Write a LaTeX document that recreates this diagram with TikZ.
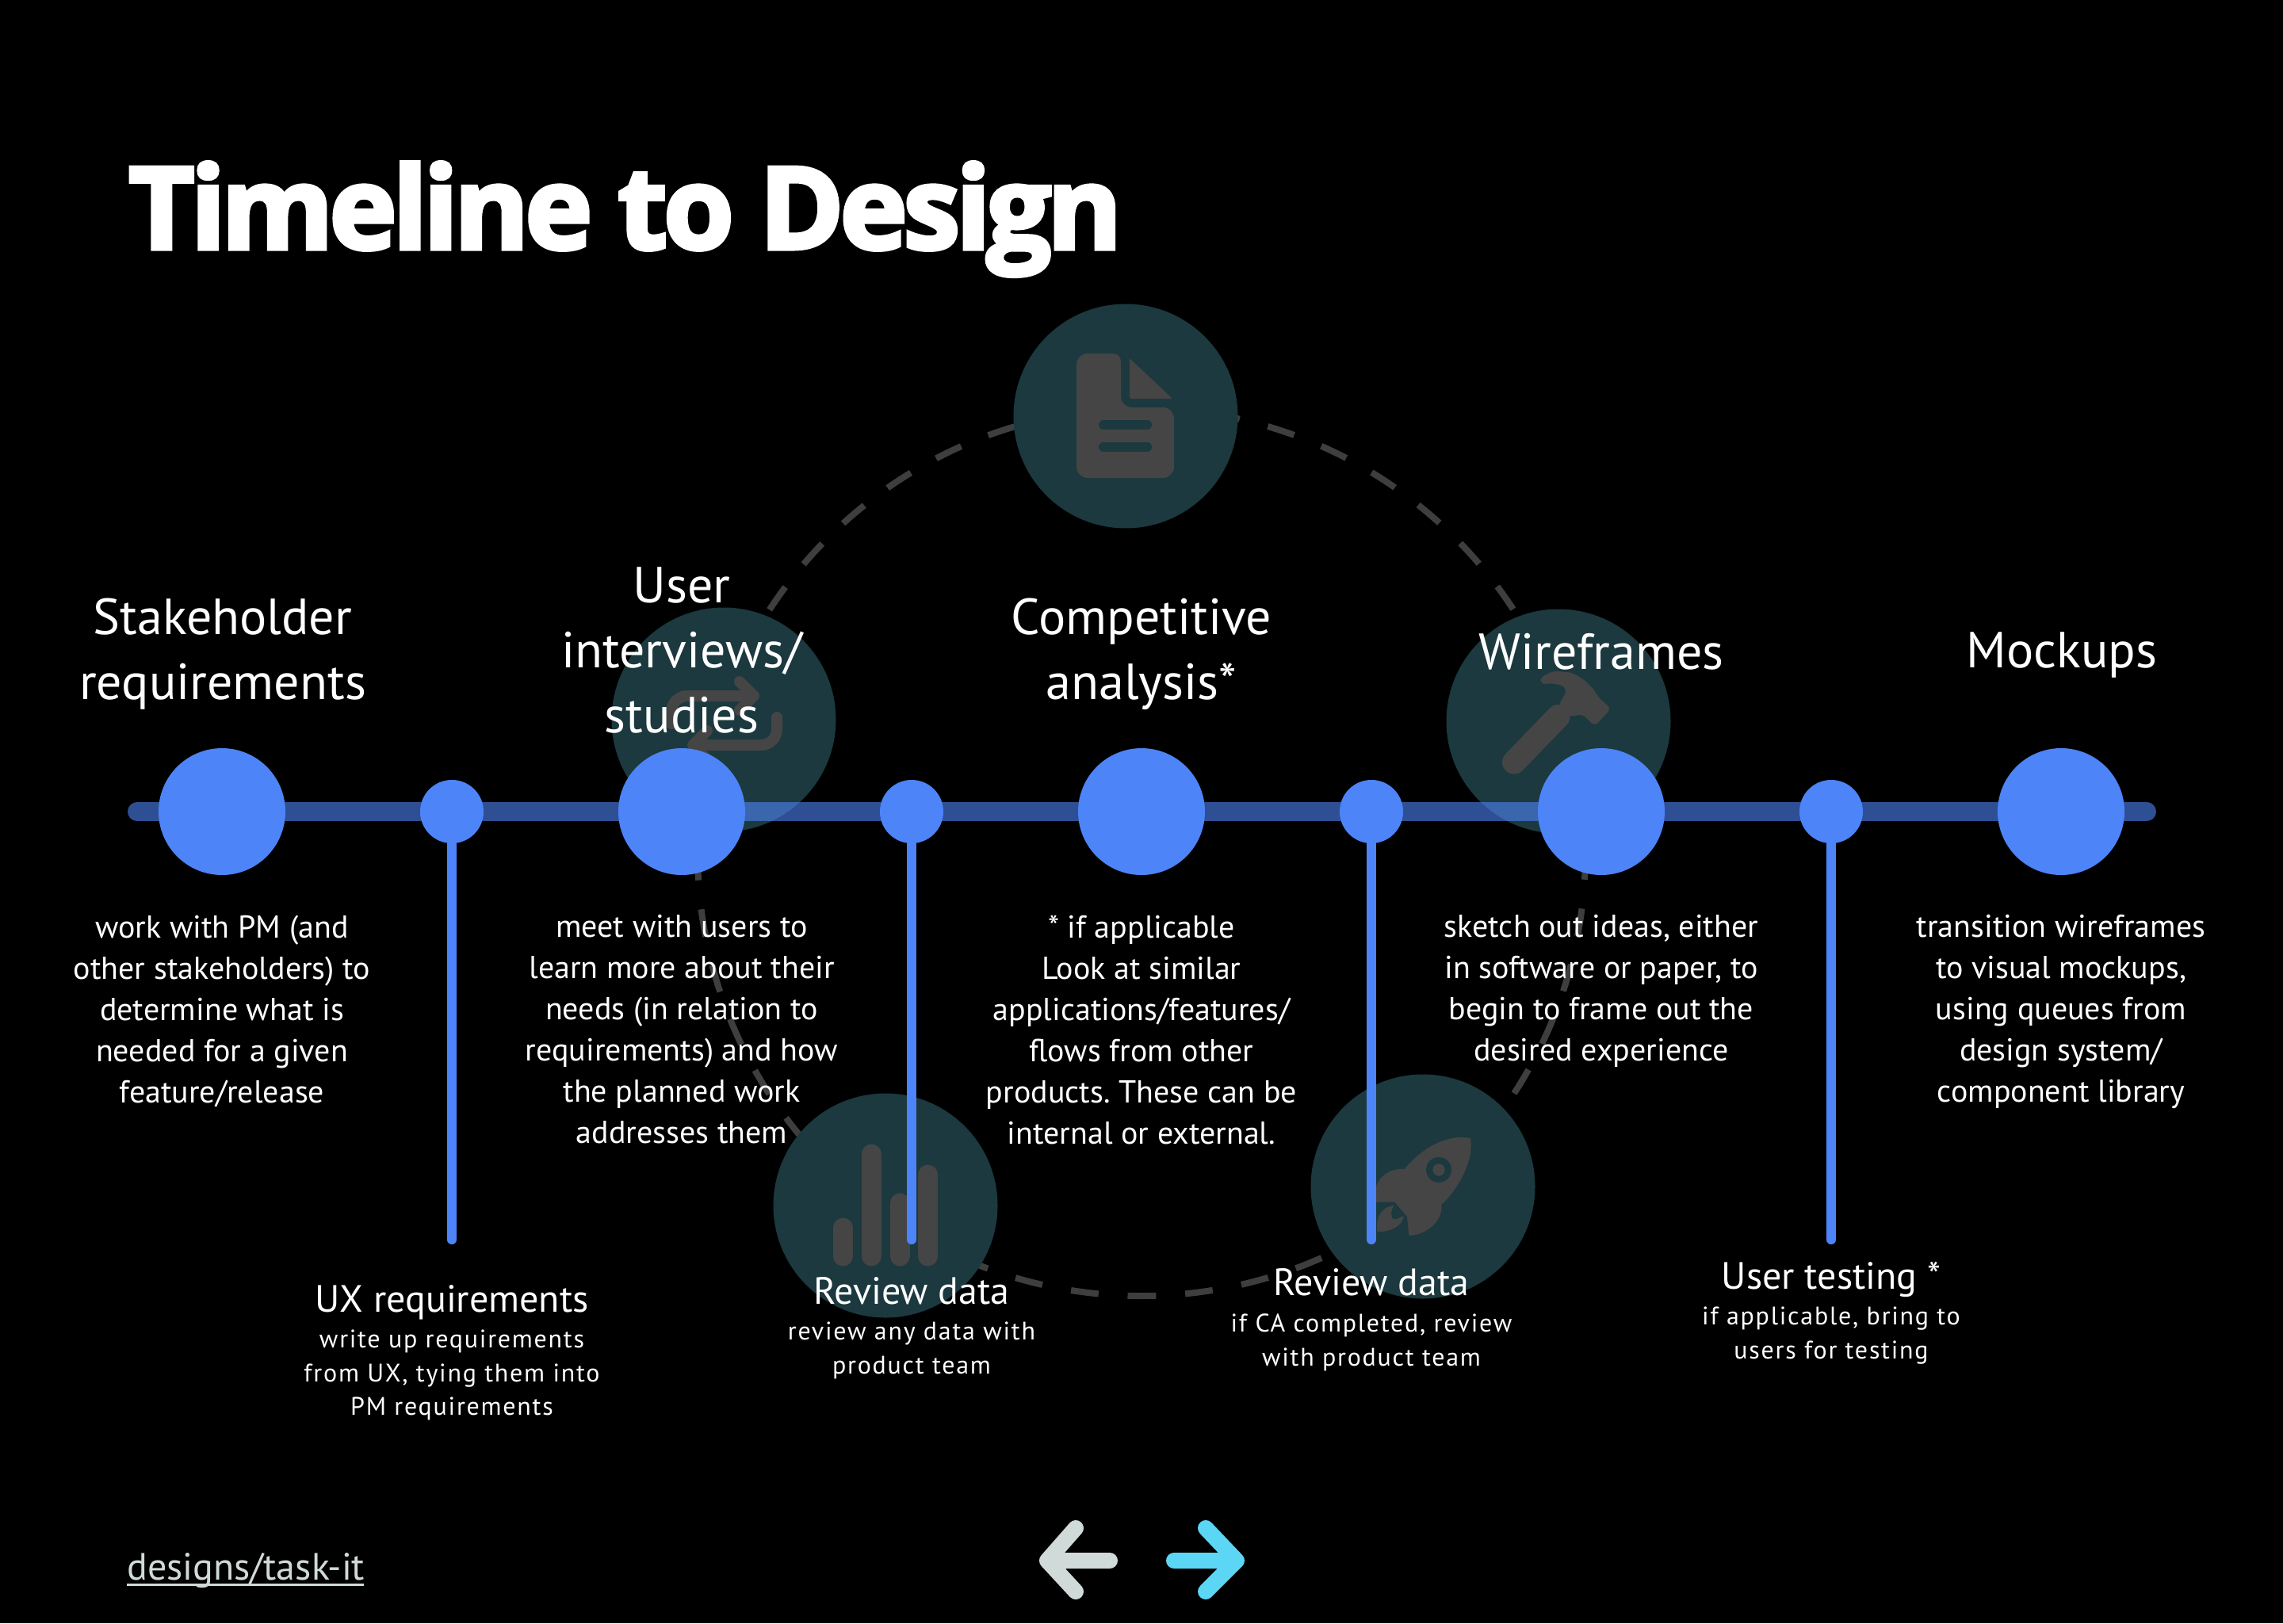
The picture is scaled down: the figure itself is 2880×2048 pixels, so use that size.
\documentclass[tikz,border=0pt]{standalone}
\usepackage{fontspec}
\setmainfont{PT Sans}
\newfontfamily\titlefont[LetterSpace=-3.6,BoldFeatures={FakeBold=3.5}]{Open Sans}
\newfontfamily\smallfont[LetterSpace=5.5]{PT Sans}
\definecolor{bluedot}{HTML}{4D84F8}
\definecolor{tealc}{HTML}{1B393E}
\definecolor{icon}{HTML}{454545}
\definecolor{linkc}{HTML}{D0DAD8}
\definecolor{cyanc}{HTML}{5BD7F5}
\tikzset{
  bigdot/.style={circle,fill=bluedot,minimum size=160pt,inner sep=0pt},
  smalldot/.style={circle,fill=bluedot,minimum size=80pt,inner sep=0pt},
  tealdisc/.style={circle,fill=tealc,minimum size=283pt,inner sep=0pt},
  heading/.style={text=white,align=center,font=\frenchspacing\fontsize{64}{82}\selectfont},
  bodytext/.style={text=white,align=center,font=\frenchspacing\fontsize{40}{52}\selectfont},
  subhead/.style={text=white,align=center,font=\frenchspacing\fontsize{48}{56}\selectfont},
  subtext/.style={text=white,align=center,font=\frenchspacing\smallfont\fontsize{32}{42.5}\selectfont},
  droplink/.style={line width=12pt,draw=bluedot,line cap=round},
  iconline/.style={draw=icon,line cap=round,line join=round},
}
\begin{document}
\begin{tikzpicture}[x=1pt,y=-1pt]
\useasboundingbox (0,0) rectangle (2880,2048);
\fill[black] (0,0) rectangle (2880,2048);
% dashed ring
\draw[draw=icon!90!black,line width=8pt,dash pattern=on 35pt off 36.8pt,dash phase=17.5pt]
  (1440,1635) arc [start angle=90,end angle=450,radius=560];
% teal discs
\node[tealdisc] (tdoc) at (1420,525) {};
\node[tealdisc] (tswap) at (913,908) {};
\node[tealdisc] (tham) at (1966,910) {};
\node[tealdisc] (tbar) at (1117,1521) {};
\node[tealdisc] (trock) at (1795,1497) {};
% document icon
\fill[icon,rounded corners=10pt] (1358,446) -- (1414,446) -- (1414,505) [rounded corners=14pt] -- (1414,514) [rounded corners=14pt] -- (1481,514) -- (1481,603) -- (1358,603) -- cycle;
\fill[icon,rounded corners=2pt] (1425,452) -- (1479,503) -- (1425,503) -- cycle;
\draw[draw=tealc,line width=12pt,line cap=round] (1392,536) -- (1447,536) (1392,564) -- (1447,564);
% swap icon
\draw[iconline,line width=14pt,rounded corners=20pt] (847,913) -- (847,878) -- (948,878);
\draw[iconline,line width=14pt] (933,860) -- (951,878) -- (933,896);
\draw[iconline,line width=14pt,rounded corners=20pt] (980,905) -- (980,940) -- (878,940);
\draw[iconline,line width=14pt] (892,922) -- (874,940) -- (892,958);
% hammer icon
\begin{scope}[shift={(1800,700)},scale=1/3]
\draw[iconline,line width=30pt] (330,785) -- (497,612);
\fill[icon,rounded corners=6pt] (432,492) .. controls (430,460) and (470,440) .. (510,442) .. controls (570,447) and (620,490) .. (650,540) -- (697,582) -- (635,649) -- (588,602) -- (545,614) -- (498,570) -- (530,515) .. controls (510,490) and (470,485) .. (432,492) -- cycle;
\end{scope}
% bar icon
\draw[iconline,line width=25pt] (1063.5,1549) -- (1063.5,1585) (1099,1456) -- (1099,1585) (1135,1518) -- (1135,1585) (1170.5,1482) -- (1170.5,1585);
% rocket icon
\begin{scope}[shift={(1690,1410)},scale=1/3]
\fill[icon] (495,78) .. controls (510,160) and (450,270) .. (385,330) .. controls (392,390) and (330,445) .. (262,447) -- (255,375) -- (208,320) -- (135,320) -- (135,270) .. controls (150,215) and (200,190) .. (245,195) .. controls (310,115) and (410,60) .. (495,78) -- cycle;
\fill[icon] (142,432) .. controls (135,390) and (150,340) .. (205,332) .. controls (190,360) and (195,385) .. (207,385) .. controls (220,385) and (235,375) .. (242,372) .. controls (240,410) and (190,435) .. (142,432) -- cycle;
\fill[tealc] (375,198) circle [radius=48];
\fill[icon] (375,198) circle [radius=23];
\end{scope}
% main line
\coordinate (ls) at (173,1024);
\coordinate (le) at (2708,1024);
\draw[draw=bluedot,opacity=0.6,line width=24pt,line cap=round] (ls) -- (le);
% dots
\node[bigdot] (n1) at (280,1024) {};
\node[bigdot] (n2) at (860,1024) {};
\node[bigdot] (n3) at (1440,1024) {};
\node[bigdot] (n4) at (2020,1024) {};
\node[bigdot] (n5) at (2600,1024) {};
\node[smalldot] (s1) at (570,1024) {};
\node[smalldot] (s2) at (1150,1024) {};
\node[smalldot] (s3) at (1730,1024) {};
\node[smalldot] (s4) at (2310,1024) {};
\coordinate (e1) at (570,1564);
\coordinate (e2) at (1150,1564);
\coordinate (e3) at (1730,1564);
\coordinate (e4) at (2310,1564);
\draw[droplink] (s1.center) -- (e1);
\draw[droplink] (s2.center) -- (e2);
\draw[droplink] (s3.center) -- (e3);
\draw[droplink] (s4.center) -- (e4);
% title
\node[anchor=base west,inner sep=0pt,text=white,font=\titlefont\bfseries\fontsize{144}{150}\selectfont] (title) at (162,314) {Timeline to Design};
% headings
\node[heading] (h1) at (281,825) {Stakeholder\\requirements};
\node[heading] (h2) at (860,820) {User\\interviews/\\studies};
\node[heading] (h3) at (1440,825) {Competitive\\analysis*};
\node[heading] (h4) at (2020,822) {Wireframes};
\node[heading] (h5) at (2601,826) {Mockups};
% bodies
\node[bodytext] (b1) at (280,1276) {work with PM (and\\other stakeholders) to\\determine what is\\needed for a given\\feature/release};
\node[bodytext] (b2) at (860,1299) {meet with users to\\learn more about their\\needs (in relation to\\requirements) and how\\the planned work\\addresses them};
\node[bodytext] (b3) at (1440,1299) {* if applicable\\Look at similar\\applications/features/\\flows from other\\products. These can be\\internal or external.};
\node[bodytext] (b4) at (2020,1250) {sketch out ideas, either\\in software or paper, to\\begin to frame out the\\desired experience};
\node[bodytext] (b5) at (2600,1276) {transition wireframes\\to visual mockups,\\using queues from\\design system/\\component library};
% sub items
\node[subhead] (sh1) at (570,1643) {UX requirements};
\node[subtext] (st1) at (570,1735) {write up requirements\\from UX, tying them into\\PM requirements};
\node[subhead] (sh2) at (1150,1629) {Review data};
\node[subtext] (st2) at (1150,1704) {review any data with\\product team};
\node[subhead] (sh3) at (1730,1618) {Review data};
\node[subtext] (st3) at (1730,1694) {if CA completed, review\\with product team};
\node[subhead] (sh4) at (2310,1614) {User testing *};
\node[subtext] (st4) at (2310,1685) {if applicable, bring to\\users for testing};
% footer
\node[anchor=base west,inner sep=0pt,text=linkc,font=\fontsize{48}{56}\selectfont] (link) at (160,1993) {designs/task-it};
\draw[draw=linkc,line width=3pt] (160,1999) -- (459,1999);
% arrows
\draw[draw=linkc,line width=20pt,line cap=round,line join=round] (1400,1969) -- (1321,1969) (1357,1928) -- (1321,1969) -- (1357,2008);
\draw[draw=cyanc,line width=20pt,line cap=round,line join=round] (1481,1969) -- (1560,1969) (1521,1928) -- (1560,1969) -- (1521,2008);
\end{tikzpicture}
\end{document}
